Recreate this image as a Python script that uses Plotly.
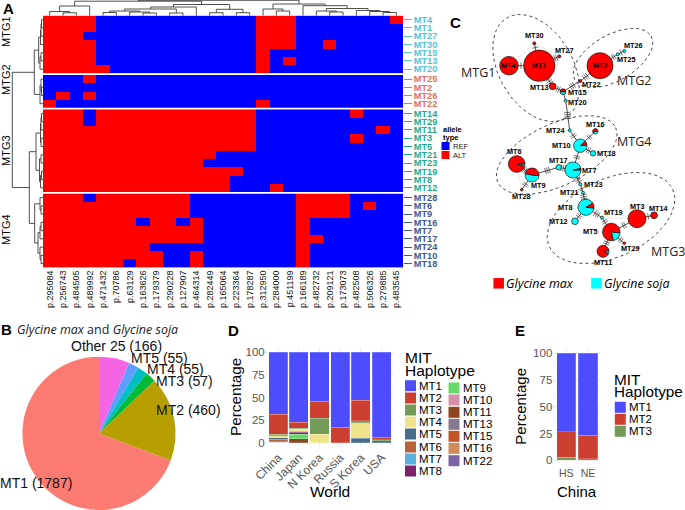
import math
import plotly.graph_objects as go

W, H = 685, 510
SANS = "Liberation Sans"
NARROW = "Liberation Sans Narrow, Liberation Sans"
OPEN = "Open Sans"

# ---------- Panel A heat map ----------
variant_labels = ["p.295084", "p.256743", "p.484505", "p.489992", "p.471432", "p.70786", "p.63129", "p.163626",
                  "p.179379", "p.290228", "p.127907", "p.464314", "p.282449", "p.165064", "p.223364", "p.178287",
                  "p.312950", "p.284000", "p.451199", "p.166189", "p.482732", "p.209121", "p.173073", "p.482508",
                  "p.506326", "p.279885", "p.483545"]
mtg1_rows = ["MT4", "MT1", "MT27", "MT30", "MT15", "MT13", "MT20"]
mtg2_rows = ["MT25", "MT2", "MT26", "MT22"]
mtg3_rows = ["MT14", "MT29", "MT11", "MT3", "MT5", "MT21", "MT23", "MT19", "MT8", "MT12"]
mtg4_rows = ["MT28", "MT6", "MT9", "MT16", "MT7", "MT17", "MT24", "MT10", "MT18"]
mtg1_alleles = ["1111 00000000 0000 111 0000 0001",
                "1111 00000000 0000 111 0000 0000",
                "1110 00000000 0000 111 0000 0000",
                "1111 00000000 0000 111 0010 0000",
                "1111 00000000 0000 100 0000 0000",
                "1111 00000000 0000 101 0000 0000",
                "1111 10000000 0000 100 0000 0000"]
mtg2_alleles = ["0001 00000000 0000 000 0000 0000",
                "0000 00000000 0000 000 0000 0000",
                "0101 00000000 0000 000 0000 0000",
                "1000 00000000 0000 100 0000 0000"]
mtg3_alleles = ["1110 11111111 1111 000 0000 1000",
                "1110 11111111 1111 000 0000 0000",
                "1111 11111111 1111 000 0000 0010",
                "1111 11111111 1111 000 0000 1000",
                "1111 11111111 1111 000 0000 0000",
                "1111 11111111 1000 000 0000 0000",
                "1111 11111111 0000 000 0000 0000",
                "1111 11111111 1110 000 0000 0000",
                "1111 11111111 1100 000 0000 0000",
                "1111 11111111 1100 010 0000 0000"]
mtg4_alleles = ["1110 11111110 0000 000 1111 0000",
                "1111 11111110 0000 000 1111 0100",
                "1111 11111110 0000 000 1111 0000",
                "1111 11101101 0000 000 1000 0000",
                "1111 11111111 0000 000 1000 0000",
                "1111 11111111 0000 000 1100 0000",
                "1111 11110000 0000 000 1000 0000",
                "1111 11111001 0000 000 1000 0000",
                "1111 11011001 0000 000 1000 0000"]
mtg_colors = ["#5BBFD2", "#E0705F", "#1FA98F", "#41598F"]
mtg_names = ["MTG1", "MTG2", "MTG3", "MTG4"]
allele_red, allele_blue = "#FF0000", "#0000FF"

# ---------- Panel B pie ----------
pie_names = ["Other 25", "MT5", "MT4", "MT3", "MT2", "MT1"]
pie_values = [166, 55, 55, 57, 460, 1787]
pie_colors = ["#F564E3", "#619CFF", "#00BFC4", "#00BA38", "#B79F00", "#FB7B72"]

# ---------- Panel D stacked bars ----------
world = ["China", "Japan", "N Korea", "Russia", "S Korea", "USA"]
w_MT1 = [68.6, 77.5, 54.2, 83.0, 52.8, 94.1]
w_MT2 = [22.2, 6.6, 18.5, 17.0, 23.2, 2.9]
w_MT3 = [1.8, 1.1, 18.1, 0, 2.2, 0.9]
w_MT4 = [2.2, 1.9, 9.2, 0, 17.0, 0]
w_MT5 = [1.5, 0, 0, 0, 4.8, 2.2]
w_MT6 = [2.5, 1.2, 0, 0, 0, 0]
w_MT8 = [0.5, 2.1, 0, 0, 0, 0]
w_MT9 = [0, 5.2, 0, 0, 0, 0]
w_MT11 = [0, 4.4, 0, 0, 0, 0]
w_MT22 = [0.7, 0, 0, 0, 0, 0]
world_series = [("MT22", w_MT22), ("MT11", w_MT11), ("MT9", w_MT9), ("MT8", w_MT8), ("MT6", w_MT6),
                ("MT5", w_MT5), ("MT4", w_MT4), ("MT3", w_MT3), ("MT2", w_MT2), ("MT1", w_MT1)]
hap_colors = {"MT1": "#4D4DFF", "MT2": "#CC3F31", "MT3": "#739B58", "MT4": "#F0E288", "MT5": "#466C8C",
              "MT6": "#B8643A", "MT7": "#5AB0DC", "MT8": "#80206C", "MT9": "#68D968", "MT10": "#D68FA8",
              "MT11": "#8F4520", "MT13": "#857A90", "MT15": "#C65428", "MT16": "#D28B58", "MT22": "#7D65A8"}
legend_d_col1 = ["MT1", "MT2", "MT3", "MT4", "MT5", "MT6", "MT7", "MT8"]
legend_d_col2 = ["MT9", "MT10", "MT11", "MT13", "MT15", "MT16", "MT22"]

# ---------- Panel E stacked bars ----------
china = ["HS", "NE"]
c_MT1 = [73.2, 76.6]
c_MT2 = [24.0, 21.9]
c_MT3 = [2.8, 1.5]
china_series = [("MT3", c_MT3), ("MT2", c_MT2), ("MT1", c_MT1)]

# ---------- Panel C network ----------
net_names = ["MT1", "MT4", "MT2", "MT30", "MT27", "MT13", "MT15", "MT22", "MT26", "MT25", "MT20", "MT24", "MT16",
             "MT10", "MT18", "MT7", "MT17", "MT6", "MT9", "MT28", "MT23", "MT21", "MT8", "MT12", "MT19", "MT5",
             "MT3", "MT14", "MT29", "MT11"]
net_x = [539.3, 509, 600, 534.3, 559.3, 552.7, 563, 580.3, 624.3, 617.7, 565.7, 569.7, 595.3, 580.3, 593, 573, 558.7,
         516.7, 532, 521.7, 580.3, 583, 586, 575, 602, 611.3, 637, 654, 624.3, 603]
net_y = [65.7, 65.7, 65.7, 43.3, 56.3, 86.3, 91.7, 81, 51, 54.3, 100.7, 130.3, 131.3, 145.7, 153.3, 170, 167.3, 164,
         175, 189.7, 184.3, 192.7, 207.3, 221.3, 217.7, 232, 218.7, 215.3, 243.3, 251.3]
net_r = [15.7, 9.3, 13, 1.5, 1.5, 3.4, 2.9, 1.5, 1.5, 1.5, 1.5, 1.5, 2.7, 6.7, 2.7, 8, 2.7, 8.3, 7, 1.3, 1.5, 1.5, 8,
         3.3, 1.5, 8.8, 9, 3.4, 1.3, 6]
# share of Glycine soja in each node, and where its slice starts (degrees clockwise from 12 o'clock)
net_soja = [0, 0, 0, 0, 0, 0, 50, 0, 100, 100, 100, 100, 40, 90, 100, 97, 100, 5, 52, 0, 100, 100, 90, 100, 100, 20,
            0, 0, 0, 8]
net_soja_start = [0, 0, 0, 0, 0, 0, 90, 0, 0, 0, 0, 0, 90, 85, 0, 90, 0, 90, 95, 0, 0, 0, 95, 0, 0, 95, 0, 0, 0, 85]
label_x = [539.3, 509, 600, 534.3, 564, 539.3, 577, 591.7, 633.3, 626.7, 577.3, 556, 595.3, 561, 606.3, 589.7, 558,
           514.7, 538.3, 521.7, 593.3, 569.3, 565, 558.7, 613, 590.3, 637, 659.3, 630, 603]
label_y = [65.7, 65.7, 65.7, 35.7, 50, 87.7, 92.3, 84.3, 45.7, 59.7, 102, 130.3, 124, 145.3, 153.3, 170, 160.3, 151,
           185.3, 196.3, 184.3, 192.3, 207.3, 221.7, 212.3, 231.7, 206, 208, 248.7, 262]
net_edges = [("MT1", "MT4", 1), ("MT1", "MT30", 1), ("MT1", "MT27", 2), ("MT1", "MT13", 3), ("MT13", "MT15", 2),
             ("MT15", "MT20", 0), ("MT15", "MT22", 3), ("MT22", "MT2", 3), ("MT2", "MT25", 2), ("MT25", "MT26", 1),
             ("MT20", "MT24", 4), ("MT24", "MT10", 2), ("MT10", "MT16", 2), ("MT10", "MT18", 2), ("MT10", "MT7", 2),
             ("MT7", "MT17", 3), ("MT17", "MT9", 3), ("MT9", "MT6", 2), ("MT9", "MT28", 2), ("MT7", "MT23", 3),
             ("MT23", "MT21", 1), ("MT21", "MT8", 3), ("MT8", "MT12", 2), ("MT8", "MT19", 3), ("MT19", "MT5", 2),
             ("MT5", "MT3", 2), ("MT3", "MT14", 1), ("MT5", "MT29", 2), ("MT5", "MT11", 2)]
net_soft_edges = [("MT4", "MT30"), ("MT30", "MT27"), ("MT27", "MT13"), ("MT8", "MT3"), ("MT5", "MT29"), ("MT19", "MT3"),
                  ("MT6", "MT28"), ("MT11", "MT29")]
blob_cx = [536, 613, 556.7, 611]
blob_cy = [68, 58, 155, 218]
blob_a = [58, 44, 65, 68]
blob_b = [37, 23, 31, 39]
blob_angle = [60, -30, -25, -25]
blob_label_x = [478.3, 634.3, 668.3, 633.7]
blob_label_y = [72.3, 80.7, 251.3, 141]
soja_color, max_color = "#00FFFF", "#FF0000"

# ---------- layout constants ----------
def py(v):
    return 1 - v / H

heat_left, heat_right = 43, 403
heat_bands = [(15.6, 73.3), (75.0, 107.8), (109.3, 192.0), (193.5, 267.7)]
groups = [(mtg1_rows, mtg1_alleles), (mtg2_rows, mtg2_alleles), (mtg3_rows, mtg3_alleles), (mtg4_rows, mtg4_alleles)]

fig = go.Figure()
layout = dict(
    width=W, height=H, margin=dict(l=0, r=0, t=0, b=0), paper_bgcolor="white", plot_bgcolor="rgba(0,0,0,0)",
    showlegend=False, barmode="stack", font=dict(family=SANS, color="black"),
    xaxis=dict(domain=[heat_left / W, heat_right / W], anchor="y4", type="category", tickmode="array",
               tickvals=variant_labels, ticktext=variant_labels, tickangle=-90, ticks="", showgrid=False,
               zeroline=False, showline=False, tickfont=dict(family=NARROW, size=9, color="#111111"), automargin=False),
    xaxis2=dict(domain=[265.7 / W, 394 / W], anchor="y5", type="category", categoryorder="array",
                categoryarray=world, range=[-0.6, 5.6], tickangle=-45, ticks="", showgrid=True, gridcolor="#EDEDED",
                zeroline=False, showline=False, tickfont=dict(size=12, color="#555555"), automargin=False),
    yaxis5=dict(domain=[py(447.2), py(347.8)], anchor="x2", range=[-5, 105], tickvals=[0, 25, 50, 75, 100],
                gridcolor="#EAEAEA", zeroline=False, ticks="", showline=False, tickfont=dict(size=11.5, color="#555555"),
                minor=dict(tickvals=[12.5, 37.5, 62.5, 87.5], showgrid=True, gridcolor="#F4F4F4"), automargin=False),
    xaxis3=dict(domain=[553.3 / W, 601 / W], anchor="y6", type="category", categoryorder="array",
                categoryarray=china, range=[-0.6, 1.6], ticks="", showgrid=True, gridcolor="#EDEDED", zeroline=False,
                showline=False, tickfont=dict(size=10.5, color="#555555"), automargin=False),
    yaxis6=dict(domain=[py(465.7), py(348)], anchor="x3", range=[-5, 105], tickvals=[0, 25, 50, 75, 100],
                gridcolor="#EAEAEA", zeroline=False, ticks="", showline=False, tickfont=dict(size=11.5, color="#555555"),
                minor=dict(tickvals=[12.5, 37.5, 62.5, 87.5], showgrid=True, gridcolor="#F4F4F4"), automargin=False),
    xaxis9=dict(domain=[0, 1], anchor="y9", range=[0, W], visible=False, fixedrange=True),
    yaxis9=dict(domain=[0, 1], anchor="x9", range=[H, 0], visible=False, fixedrange=True),
)

for i, ((rows, alleles), band) in enumerate(zip(groups, heat_bands)):
    z = [[int(c) for c in s.replace(" ", "")] for s in alleles]
    name = "y" if i == 0 else f"y{i + 1}"
    fig.add_trace(go.Heatmap(z=z, x=variant_labels, y=rows, xaxis="x", yaxis=name, zmin=0, zmax=1, showscale=False,
                             colorscale=[[0, allele_blue], [1, allele_red]], hoverinfo="skip"))
    layout["yaxis" if i == 0 else f"yaxis{i + 1}"] = dict(
        domain=[py(band[1]), py(band[0])], anchor="x", side="right", type="category", autorange="reversed",
        tickmode="array", tickvals=rows, ticktext=[f"<b>{m}</b>" for m in rows], ticks="outside", ticklen=8,
        tickwidth=1, tickcolor=mtg_colors[i], showgrid=False, zeroline=False, showline=False,
        tickfont=dict(family=SANS, size=9.2, color=mtg_colors[i]), automargin=False)

# ---------- Panel B ----------
fig.add_trace(go.Pie(values=pie_values, labels=pie_names, sort=False, direction="clockwise", rotation=0,
                     marker=dict(colors=pie_colors, line=dict(width=0)), textinfo="none", hoverinfo="skip",
                     domain=dict(x=[(99 - 76.6) / W, (99 + 76.6) / W], y=[py(510), py(356.8)])))

# ---------- Panels D and E ----------
for name, vals in world_series:
    fig.add_trace(go.Bar(x=world, y=vals, xaxis="x2", yaxis="y5", width=0.92, name=name,
                         marker=dict(color=hap_colors[name], line=dict(width=0.4, color="rgba(255,255,255,0.5)")),
                         hoverinfo="skip"))
for name, vals in china_series:
    fig.add_trace(go.Bar(x=china, y=vals, xaxis="x3", yaxis="y6", width=0.89, name=name,
                         marker=dict(color=hap_colors[name], line=dict(width=0.4, color="rgba(255,255,255,0.5)")),
                         hoverinfo="skip"))

# ---------- Dendrograms ----------
def n(h, a, b):
    return (h, a, b)

c = list(range(27))
top_left = n(6, n(11.5, c[0], n(12.8, c[1], c[2])), c[3])
top_mid_a = n(7, n(9, n(11, n(12.5, c[4], c[5]), n(12, c[6], n(13, c[7], c[8]))), n(13, c[9], c[10])), c[11])
top_mid_b = n(9.3, n(12.7, c[12], c[13]), n(12.7, c[14], c[15]))
top_right_a = n(9, c[16], n(11, c[17], c[18]))
top_right_b = n(5.7, c[19], n(8.5, n(11, c[20], n(12, c[21], c[22])),
                              n(10.5, c[23], n(11.5, c[24], n(12.5, c[25], c[26])))))
top_tree = n(0.3, n(1.2, top_left, n(4.5, top_mid_a, top_mid_b)), n(4, top_right_a, top_right_b))

r = list(range(30))
side_g1 = n(38.7, n(40.5, n(41, n(41.5, r[0], r[1]), r[2]), r[3]), n(40, n(41, r[4], r[5]), r[6]))
side_g2 = n(40, n(41, r[7], n(41.5, r[8], r[9])), r[10])
side_g3 = n(36, n(40.5, n(41, n(41.5, r[11], r[12]), r[13]), n(41, r[14], r[15])),
            n(39.5, n(41, r[16], r[17]), n(40.5, n(41.5, r[18], r[19]), r[20])))
side_g4 = n(34.7, n(40, r[21], n(41, r[22], r[23])),
            n(38, n(40, n(41, r[24], r[25]), r[26]), n(40, r[27], n(41, r[28], r[29]))))
side_tree = n(12.3, n(34.3, side_g1, side_g2), n(29.3, side_g3, side_g4))

col_pos = [heat_left + (heat_right - heat_left) * (i + 0.5) / 27 for i in c]
row_pos = []
for (rows, _), band in zip(groups, heat_bands):
    row_pos += [band[0] + (band[1] - band[0]) * (i + 0.5) / len(rows) for i in range(len(rows))]

def walk(node, leaves, leaf_h, out):
    if isinstance(node, int):
        return leaves[node], leaf_h
    h, a, b = node
    pa, ha = walk(a, leaves, leaf_h, out)
    pb, hb = walk(b, leaves, leaf_h, out)
    out.append(((pa, ha), (pa, h), (pb, h), (pb, hb)))
    return (pa + pb) / 2, h

segs = []
walk(top_tree, col_pos, 15.6, segs)
dx, dy = [], []
for s in segs:
    dx += [p[0] for p in s] + [None]
    dy += [p[1] for p in s] + [None]
fig.add_trace(go.Scatter(x=dx, y=dy, xaxis="x9", yaxis="y9", mode="lines", line=dict(color="#3C3C3C", width=0.9),
                         hoverinfo="skip"))
segs = []
walk(side_tree, row_pos, 43, segs)
dx, dy = [], []
for s in segs:
    dx += [p[1] for p in s] + [None]
    dy += [p[0] for p in s] + [None]
fig.add_trace(go.Scatter(x=dx, y=dy, xaxis="x9", yaxis="y9", mode="lines", line=dict(color="#3C3C3C", width=0.9),
                         hoverinfo="skip"))

# ---------- Panel C ----------
pos = {m: (x, y, rr) for m, x, y, rr in zip(net_names, net_x, net_y, net_r)}
for cx, cy, a, b, ang in zip(blob_cx, blob_cy, blob_a, blob_b, blob_angle):
    t = math.radians(ang)
    ex, ey = [], []
    for k in range(121):
        u = 2 * math.pi * k / 120
        px, qy = a * math.cos(u), b * math.sin(u)
        ex.append(cx + px * math.cos(t) - qy * math.sin(t))
        ey.append(cy + px * math.sin(t) + qy * math.cos(t))
    fig.add_trace(go.Scatter(x=ex, y=ey, xaxis="x9", yaxis="y9", mode="lines",
                             line=dict(color="#333333", width=0.9, dash="dot"), hoverinfo="skip"))

sx, sy = [], []
for a, b in net_soft_edges:
    sx += [pos[a][0], pos[b][0], None]
    sy += [pos[a][1], pos[b][1], None]
fig.add_trace(go.Scatter(x=sx, y=sy, xaxis="x9", yaxis="y9", mode="lines", line=dict(color="#DDDDDD", width=0.7),
                         hoverinfo="skip"))
ex, ey, hx, hy = [], [], [], []
for a, b, count in net_edges:
    x0, y0, r0 = pos[a]
    x1, y1, r1 = pos[b]
    ex += [x0, x1, None]
    ey += [y0, y1, None]
    L = math.hypot(x1 - x0, y1 - y0)
    ux, uy = (x1 - x0) / L, (y1 - y0) / L
    mid = (r0 + (L - r1)) / 2
    for k in range(count):
        d = mid + (k - (count - 1) / 2) * 2.0
        mx, my = x0 + ux * d, y0 + uy * d
        hx += [mx - uy * 3.2, mx + uy * 3.2, None]
        hy += [my + ux * 3.2, my - ux * 3.2, None]
fig.add_trace(go.Scatter(x=ex, y=ey, xaxis="x9", yaxis="y9", mode="lines", line=dict(color="#222222", width=0.8),
                         hoverinfo="skip"))
fig.add_trace(go.Scatter(x=hx, y=hy, xaxis="x9", yaxis="y9", mode="lines", line=dict(color="#333333", width=0.7),
                         hoverinfo="skip"))

whole = [i for i, s in enumerate(net_soja) if s in (0, 100)]
fig.add_trace(go.Scatter(x=[net_x[i] for i in whole], y=[net_y[i] for i in whole], xaxis="x9", yaxis="y9",
                         mode="markers", hoverinfo="skip",
                         marker=dict(size=[2 * net_r[i] for i in whole], opacity=1,
                                     color=[soja_color if net_soja[i] == 100 else max_color for i in whole],
                                     line=dict(color="#111111", width=0.7))))
for i, s in enumerate(net_soja):
    if s in (0, 100):
        continue
    x, y, rr = net_x[i], net_y[i], net_r[i]
    fig.add_trace(go.Pie(values=[s, 100 - s], sort=False, direction="clockwise", rotation=net_soja_start[i],
                         marker=dict(colors=[soja_color, max_color], line=dict(color="#111111", width=0.7)),
                         textinfo="none", hoverinfo="skip",
                         domain=dict(x=[(x - rr) / W, (x + rr) / W], y=[py(y + rr), py(y - rr)])))

# legend swatches: allele type, species, haplotypes
allele_key = [("REF", allele_blue, 146), ("ALT", allele_red, 155)]
species_key = [("Glycine max", max_color, 498.7, 283.3), ("Glycine soja", soja_color, 596.4, 283.3)]
sq = dict(xaxis="x9", yaxis="y9", mode="markers", hoverinfo="skip")
fig.add_trace(go.Scatter(x=[445.5, 445.5], y=[k[2] for k in allele_key], **sq,
                         marker=dict(symbol="square", size=8, color=[k[1] for k in allele_key], line=dict(width=0))))
fig.add_trace(go.Scatter(x=[k[2] for k in species_key], y=[k[3] for k in species_key], **sq,
                         marker=dict(symbol="square", size=10.5, color=[k[1] for k in species_key], line=dict(width=0))))

row_ys_d1 = [385.7, 398, 410, 422, 434, 447, 459, 471]
row_ys_d2 = [388, 400, 412.3, 424.3, 436.3, 448.3, 460.7]
row_ys_e = [407.3, 419.3, 431.3]
legend_e = ["MT1", "MT2", "MT3"]
for names, ys, sw_x in [(legend_d_col1, row_ys_d1, 410.5), (legend_d_col2, row_ys_d2, 454), (legend_e, row_ys_e, 620.3)]:
    fig.add_trace(go.Scatter(x=[sw_x] * len(names), y=ys, **sq,
                             marker=dict(symbol="square", size=11, color=[hap_colors[m] for m in names],
                                         line=dict(width=0))))

# ---------- Text ----------
ann = []
def lab(x, y, text, size=10, family=SANS, color="black", anchor="center", angle=0):
    ann.append(dict(x=x, y=y, xref="x9", yref="y9", text=text, showarrow=False, xanchor=anchor, yanchor="middle",
                    font=dict(size=size, family=family, color=color), textangle=angle, borderpad=0))

for t, x, y in [("A", 8, 8), ("B", 6, 329.5), ("C", 455, 22), ("D", 233, 330), ("E", 519.5, 330)]:
    lab(x, y, f"<b>{t}</b>", size=15)
lab(16, 329.5, "<i>Glycine max</i> and <i>Glycine soja</i>", size=12.5, family=OPEN, anchor="left", color="#222222")
for t, y in zip(mtg_names, [32, 80, 151, 230]):
    lab(6, y, t, size=11, family=NARROW, angle=-90)
lab(441.7, 129.5, "<b>allele</b>", size=7.5, anchor="left")
lab(441.7, 137, "<b>type</b>", size=7.5, anchor="left")
for t, _, y in allele_key:
    lab(451.5, y, t, size=7.5, anchor="left", color="#222222")
for t, _, x, y in species_key:
    lab(x + 6.5, y, f"<i>{t}</i>", size=12.5, family=OPEN, anchor="left")
for t, x, y in zip(net_names, label_x, label_y):
    lab(x, y, f"<b>{t}</b>", size=7.3)
for t, x, y in zip(mtg_names, blob_label_x, blob_label_y):
    lab(x, y, t, size=12.5, family=OPEN, color="#222222")
for t, x, y in [("Other 25 (166)", 116, 346), ("MT5 (55)", 159, 357.7), ("MT4 (55)", 175, 369),
                ("MT3 (57)", 184, 381), ("MT2 (460)", 188, 410), ("MT1 (1787)", 36, 483)]:
    lab(x, y, t, size=14, color="#111111")
lab(235, 397, "Percentage", size=15.3, angle=-90)
lab(330, 491, "World", size=15.5)
lab(521, 406.7, "Percentage", size=15, angle=-90)
lab(576.7, 491.7, "China", size=15)
lab(404, 357.5, "MIT", size=15.5, anchor="left")
lab(404, 370.5, "Haplotype", size=15.5, anchor="left")
lab(613.3, 379, "MIT", size=15.3, anchor="left")
lab(613.3, 391.7, "Haplotype", size=15.3, anchor="left")
for t, y in zip(legend_d_col1, row_ys_d1):
    lab(418, y, t, size=11.5, anchor="left")
for t, y in zip(legend_d_col2, row_ys_d2):
    lab(462, y, t, size=11.5, anchor="left")
for t, y in zip(legend_e, row_ys_e):
    lab(627.7, y, t, size=11.5, anchor="left")

layout["annotations"] = ann
fig.update_layout(**layout)
fig.write_html("out.html", config=dict(displayModeBar=False),
               post_script="document.body.style.margin='0';document.documentElement.style.overflow='hidden';")
